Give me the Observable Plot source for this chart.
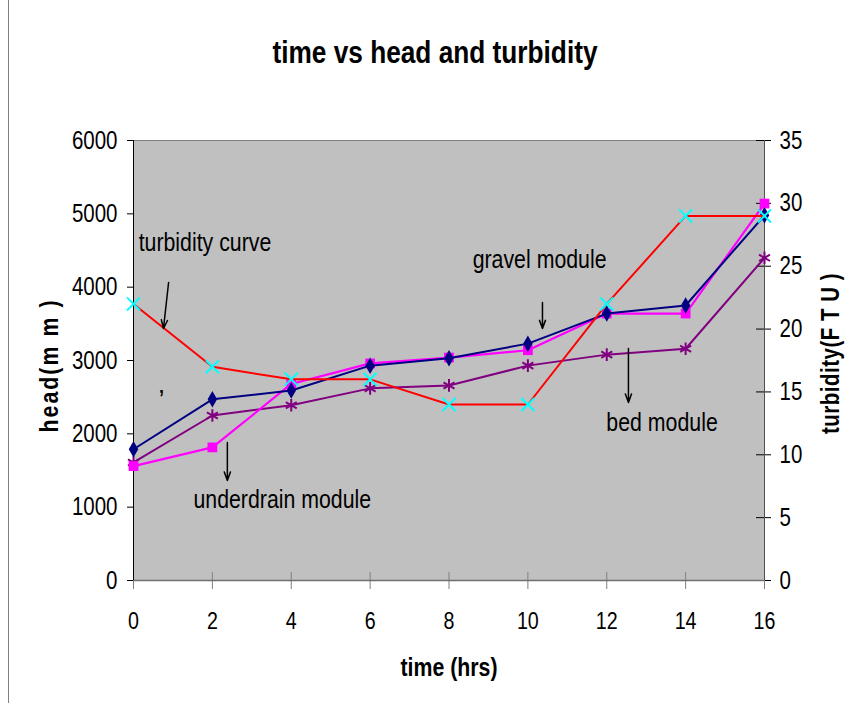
<!DOCTYPE html>
<html>
<head>
<meta charset="utf-8">
<script src="https://cdn.jsdelivr.net/npm/d3@7"></script>
<script src="https://cdn.jsdelivr.net/npm/@observablehq/plot@0.6"></script>
<style>
  html, body { margin: 0; padding: 0; background: #fff; }
  #wrap { position: relative; width: 849px; height: 717px; overflow: hidden; }
  #edge { position: absolute; left: 8px; top: 0; width: 1px; height: 703px; background: #808080; }
  #chart { position: absolute; left: 0; top: 0; }
</style>
</head>
<body>
<div id="wrap"><div id="chart"></div><div id="edge"></div></div>
<script>
const time = [0, 2, 4, 6, 8, 10, 12, 14, 16];
const gravelHead = [1790, 2470, 2590, 2930, 3030, 3230, 3640, 3750, 4980];
const underdrainHead = [1560, 1815, 2680, 2960, 3040, 3140, 3640, 3640, 5140];
const bedHead = [1610, 2250, 2390, 2620, 2660, 2930, 3080, 3160, 4400];
const turbidity = [22, 17, 16, 16, 14, 14, 22, 29, 29];
const headTicks = [0, 1000, 2000, 3000, 4000, 5000, 6000];
const turbTicks = [0, 5, 10, 15, 20, 25, 30, 35];
const headMax = 6000, turbMax = 35;

const annLabels = ["turbidity curve", "gravel module", "bed module", "underdrain module"];
const annTime = [0.13, 8.6, 11.99, 1.52];
const annHead = [4500, 4268, 2045, 982];
const arrowTime1 = [0.89, 10.37, 12.55, 2.38];
const arrowHead1 = [4064, 3791, 3164, 1882];
const arrowTime2 = [0.76, 10.37, 12.55, 2.38];
const arrowHead2 = [3436, 3436, 2427, 1364];

const headLabel = "head(m m )";
const turbLabel = "turbidity(F T U )";

const k = headMax / turbMax;
const rows = (vals) => time.map((t, i) => ({t, v: vals[i]}));
const gravel = rows(gravelHead);
const under = rows(underdrainHead);
const bed = rows(bedHead);
const turb = time.map((t, i) => ({t, v: turbidity[i] * k}));
const ann = annLabels.map((s, i) => ({s, t: annTime[i], v: annHead[i]}));
const arrows = annLabels.map((s, i) => ({t1: arrowTime1[i], v1: arrowHead1[i], t2: arrowTime2[i], v2: arrowHead2[i]}));

const FONT = "'Liberation Sans', Arial, Helvetica, sans-serif";

const chart = Plot.plot({
  width: 849, height: 717,
  marginLeft: 133, marginRight: 85, marginTop: 140, marginBottom: 137,
  style: {fontFamily: FONT, fontSize: "25px", color: "#000", background: "transparent", overflow: "visible"},
  x: {domain: [0, 16]},
  y: {domain: [0, headMax]},
  marks: [
    Plot.frame({fill: "#C0C0C0", stroke: "#808080"}),
    Plot.axisY({ticks: headTicks, tickSize: 6, tickPadding: 10, tickFormat: d => String(d), label: null, fontSize: 25, stroke: "#000"}),
    Plot.axisY(turbTicks.map(v => v * k), {anchor: "right", tickSize: 0, tickPadding: 15, tickFormat: d => String(Math.round(d / k)), label: null, fontSize: 25}),
    Plot.ruleY(turbTicks.map(v => v * k), {x1: 16, x2: 16, insetLeft: -8, insetRight: -7, stroke: "#000"}),
    Plot.axisX({ticks: time, tickSize: 0, tickPadding: 31, label: null, fontSize: 24}),
    Plot.ruleX(time, {y1: 0, y2: 0, insetTop: -8, insetBottom: -9, stroke: "#808080"}),
    Plot.ruleY([0], {stroke: "#707070", strokeWidth: 1.5}),
    Plot.ruleX([0], {stroke: "#000"}),
    Plot.ruleX([16], {stroke: "#505050"}),

    Plot.line(bed, {x: "t", y: "v", stroke: "#800080", strokeWidth: 2}),
    Plot.dot(bed, {x: "t", y: "v", symbol: "asterisk", r: 6, stroke: "#800080", strokeWidth: 2}),
    Plot.line(under, {x: "t", y: "v", stroke: "#FF00FF", strokeWidth: 2.2}),
    Plot.dot(under, {x: "t", y: "v", symbol: "square", r: 5.5, fill: "#FF00FF", stroke: "none"}),
    Plot.line(gravel, {x: "t", y: "v", stroke: "#000080", strokeWidth: 2}),
    Plot.dot(gravel, {x: "t", y: "v", symbol: "diamond", r: 5, fill: "#000080", stroke: "none"}),
    Plot.line(turb, {x: "t", y: "v", stroke: "#FF0000", strokeWidth: 2}),
    Plot.dot(turb, {x: "t", y: "v", symbol: "times", r: 6, stroke: "#00FFFF", strokeWidth: 2}),

    Plot.text(ann, {x: "t", y: "v", text: "s", textAnchor: "start", lineAnchor: "bottom", fontSize: 26, fill: "#000"}),
    Plot.arrow(arrows, {x1: "t1", y1: "v1", x2: "t2", y2: "v2", stroke: "#000", strokeWidth: 1.5, headLength: 9, headAngle: 40}),
    Plot.text(["\u2019"], {x: 0.71, y: 2495, fontSize: 22, fontWeight: "bold", fill: "#000"}),

    Plot.text(["time vs head and turbidity"], {frameAnchor: "top", dx: -14, dy: -78, lineAnchor: "bottom", fontSize: 32, fontWeight: "bold", fill: "#000"}),
    Plot.text(["time (hrs)"], {frameAnchor: "bottom", dx: 0, dy: 95, lineAnchor: "bottom", fontSize: 26, fontWeight: "bold", fill: "#000"}),
    Plot.text([headLabel], {frameAnchor: "left", textAnchor: "middle", dx: -84, dy: 5, rotate: -90, fontSize: 26, fontWeight: "bold", fill: "#000"}),
    Plot.text([turbLabel], {frameAnchor: "right", textAnchor: "middle", dx: 66, dy: -7, rotate: -90, fontSize: 25, fontWeight: "bold", fill: "#000"})
  ]
});

// Condense all text horizontally (Arial Narrow look) around each text's own anchor point.
chart.querySelectorAll("text").forEach(el => {
  const t = el.getAttribute("transform") || "";
  const xa = el.getAttribute("x");
  if (xa != null && /^-?[\d.]+$/.test(xa)) el.setAttribute("x", String(+xa / 0.82));
  el.setAttribute("transform", `${t} scale(0.82,1)`);
  if (el.textContent === headLabel) el.style.letterSpacing = "2.5px";
  if (el.textContent === turbLabel) el.style.letterSpacing = "0.6px";
});
document.getElementById("chart").appendChild(chart);
</script>
</body>
</html>
